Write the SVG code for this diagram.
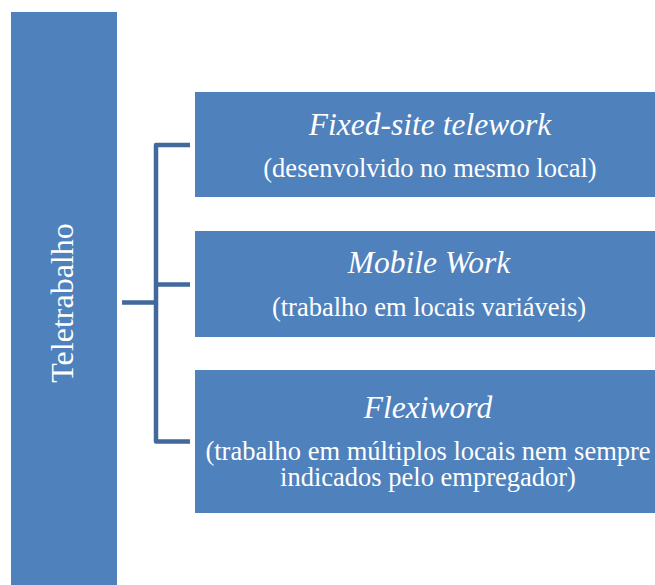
<svg xmlns="http://www.w3.org/2000/svg" width="655" height="585" viewBox="0 0 655 585">
<style>
.box{fill:#4F81BD}
.t{font-family:"Liberation Serif","Times New Roman",serif;fill:#fff;text-anchor:middle}
.ti{font-style:italic;font-size:31.5px}
.ts{font-size:26.5px}
.conn{fill:none;stroke:#41699C;stroke-width:4.5;stroke-linejoin:round;stroke-linecap:butt}
</style>
<rect width="655" height="585" fill="#fff"/>
<g id="teletrabalho">
<rect class="box" x="11" y="12" width="106" height="580"/>
<text class="t" style="font-size:32px" transform="translate(73,303) rotate(-90)">Teletrabalho</text>
</g>
<g id="connectors">
<path class="conn" d="M122,302.5 H156"/>
<path class="conn" d="M190,145 H156 V441.5 H190"/>
<path class="conn" d="M156,284.5 H190"/>
</g>
<g id="fixed-site">
<rect class="box" x="195" y="92" width="470" height="105"/>
<text class="t ti" x="430" y="135">Fixed-site telework</text>
<text class="t ts" x="430" y="177">(desenvolvido no mesmo local)</text>
</g>
<g id="mobile-work">
<rect class="box" x="195" y="231" width="470" height="106"/>
<text class="t ti" x="429" y="273">Mobile Work</text>
<text class="t ts" x="429" y="316">(trabalho em locais variáveis)</text>
</g>
<g id="flexiword">
<rect class="box" x="195" y="370" width="470" height="143"/>
<text class="t ti" x="428" y="418">Flexiword</text>
<text class="t ts" x="428" y="460">(trabalho em múltiplos locais nem sempre</text>
<text class="t ts" x="428" y="486">indicados pelo empregador)</text>
</g>
</svg>
